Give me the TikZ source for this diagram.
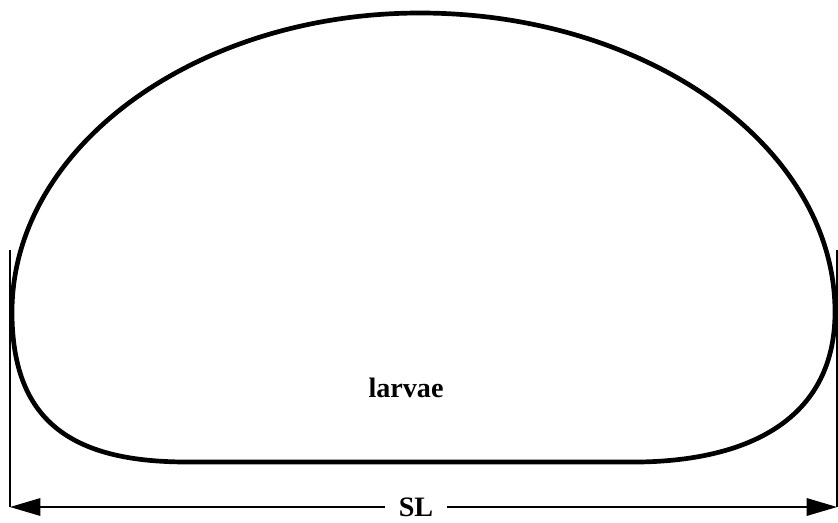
\documentclass[tikz,border=0pt]{standalone}
\usepackage{fontspec}
\setmainfont{Liberation Serif}
\usetikzlibrary{arrows.meta,positioning}

\begin{document}
\begin{tikzpicture}[x=0.03cm, y=-0.03cm]
    % Define styles
    \tikzstyle{outline} = [line width=4pt, line join=round]
    \tikzstyle{guide} = [line width=1.2pt]
    \tikzstyle{arrow} = [line width=1.4pt, -{Triangle[length=26pt, width=15pt]}]
    \tikzstyle{label} = [font=\bfseries\fontsize{24}{28}\selectfont, inner sep=0pt]

    \useasboundingbox (0,0) rectangle (838,522);

    % Body outline
    \draw [outline] (187,462) .. controls (70,462) and (12,420) .. (12,312)
        .. controls (12,147) and (196,13) .. (420,13)
        .. controls (648,13) and (835,147) .. (835,312)
        .. controls (835,415) and (755,460) .. (640,462) -- cycle;

    % Labels
    \node [label] (larvae) at (406,388) {larvae};
    \node [label, fill=white, inner xsep=12pt, inner ysep=2pt] (sl) at (416,507) {SL};

    % Length marks
    \coordinate (lefttop) at (10,250);
    \coordinate (leftend) at (10,507);
    \coordinate (righttop) at (837,250);
    \coordinate (rightend) at (837,507);
    \draw [guide] (lefttop) -- (leftend);
    \draw [guide] (righttop) -- (rightend);
    \draw [arrow] (sl) -- (leftend);
    \draw [arrow] (sl) -- (rightend);
\end{tikzpicture}
\end{document}
